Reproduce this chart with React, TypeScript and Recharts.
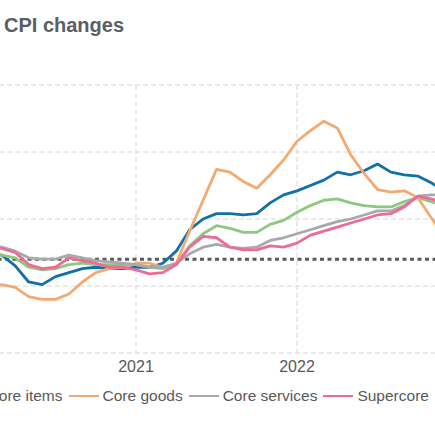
import { LineChart, Line, XAxis, YAxis, CartesianGrid, ReferenceLine, Legend } from 'recharts'

// months Jan 2020 .. Nov 2022, plotted at month end (t = 1 is end of Jan 2020)
const months = [
  '2020-01', '2020-02', '2020-03', '2020-04', '2020-05', '2020-06',
  '2020-07', '2020-08', '2020-09', '2020-10', '2020-11', '2020-12',
  '2021-01', '2021-02', '2021-03', '2021-04', '2021-05', '2021-06',
  '2021-07', '2021-08', '2021-09', '2021-10', '2021-11', '2021-12',
  '2022-01', '2022-02', '2022-03', '2022-04', '2022-05', '2022-06',
  '2022-07', '2022-08', '2022-09', '2022-10', '2022-11',
]

const allItems = [
  2.5, 2.3, 1.5, 0.3, 0.1, 0.7, 1.0, 1.3, 1.4, 1.3, 1.3, 1.4,
  1.4, 1.7, 2.6, 4.2, 5.0, 5.4, 5.4, 5.3, 5.4, 6.2, 6.8, 7.1,
  7.5, 7.9, 8.5, 8.3, 8.6, 9.1, 8.5, 8.3, 8.2, 7.7, 7.1,
]
const coreItems = [
  2.3, 2.3, 2.1, 1.4, 1.2, 1.3, 1.6, 1.7, 1.6, 1.6, 1.6, 1.6,
  1.4, 1.3, 1.6, 3.0, 3.9, 4.5, 4.3, 4.0, 4.0, 4.6, 4.9, 5.5,
  6.0, 6.4, 6.5, 6.2, 6.0, 5.9, 5.9, 6.3, 6.6, 6.3, 6.0,
]
const coreGoods = [
  -0.1, 0.1, -0.1, -0.8, -1.0, -1.0, -0.6, 0.3, 1.0, 1.3, 1.4, 1.7,
  1.7, 1.4, 1.7, 4.1, 6.4, 8.7, 8.5, 7.8, 7.3, 8.3, 9.4, 10.8,
  11.6, 12.3, 11.8, 9.8, 8.4, 7.2, 7.0, 7.1, 6.6, 5.1, 3.7,
]
const coreServices = [
  3.0, 2.9, 2.6, 2.1, 2.0, 2.0, 2.3, 2.1, 1.9, 1.8, 1.7, 1.6,
  1.4, 1.4, 1.7, 2.4, 2.9, 3.1, 2.9, 2.8, 2.9, 3.4, 3.6, 3.9,
  4.2, 4.5, 4.8, 5.0, 5.3, 5.6, 5.6, 6.0, 6.7, 6.8, 6.8,
]
const supercore = [
  2.9, 2.8, 2.5, 1.6, 1.3, 1.4, 2.1, 1.9, 1.7, 1.4, 1.4, 1.2,
  0.9, 1.0, 1.6, 2.9, 3.7, 3.6, 2.9, 2.7, 2.7, 3.0, 2.9, 3.2,
  3.8, 4.1, 4.4, 4.7, 5.0, 5.3, 5.4, 5.9, 6.7, 6.5, 6.2,
]

const yearTicks = [12, 24]
const yearLabels = ['2021', '2022']
const yTicks = [-5, 0, 5, 10, 15]
const TARGET = 2

const SERIES = [
  { key: 'all', name: 'All items', color: '#1170aa', values: allItems },
  { key: 'core', name: 'Core items', color: '#8cc97f', values: coreItems },
  { key: 'goods', name: 'Core goods', color: '#f2aa72', values: coreGoods },
  { key: 'services', name: 'Core services', color: '#a9a9a9', values: coreServices },
  { key: 'super', name: 'Supercore', color: '#ef6a97', values: supercore },
]

const data = months.map((m, i) => {
  const row: Record<string, number | string> = { month: m, t: i + 1 }
  SERIES.forEach(s => {
    row[s.key] = s.values[i]
  })
  return row
})

const FONT = '"Liberation Sans", Arial, sans-serif'
const TEXT = '#595959'

function LegendRow() {
  return (
    <div style={{ display: 'flex', alignItems: 'center', fontFamily: FONT, fontSize: 15.5, lineHeight: '20px', color: TEXT, whiteSpace: 'nowrap' }}>
      {SERIES.map(s => (
        <div key={s.key} style={{ display: 'flex', alignItems: 'center', marginRight: 6 }}>
          <span style={{ display: 'inline-block', width: 30, height: 2, background: s.color, marginRight: 4 }} />
          <span>{s.name}</span>
        </div>
      ))}
    </div>
  )
}

export default function App() {
  return (
    <div style={{ position: 'absolute', left: 0, top: 0, width: 435, height: 435, overflow: 'hidden', background: '#fff' }}>
      <div style={{ position: 'absolute', left: 4, top: 14.5, fontFamily: FONT, fontSize: 20, lineHeight: '20px', fontWeight: 700, color: '#5b5e63', whiteSpace: 'nowrap' }}>
        CPI changes
      </div>
      <div style={{ position: 'absolute', left: -25, top: 0 }}>
        <LineChart width={483} height={435} data={data} margin={{ top: 85, right: 0, bottom: 52, left: 0 }}>
          <CartesianGrid stroke="#d6d6d6" strokeDasharray="5 3" />
          <XAxis
            type="number"
            dataKey="t"
            domain={[0, 36]}
            ticks={yearTicks}
            interval={0}
            tickFormatter={(v: number) => yearLabels[yearTicks.indexOf(v)] ?? ''}
            axisLine={false}
            tickLine={false}
            height={30}
            tick={{ fill: TEXT, fontSize: 16, fontFamily: FONT }}
          />
          <YAxis type="number" domain={[-5, 15]} ticks={yTicks} hide />
          <ReferenceLine y={TARGET} stroke="#5a5a5a" strokeWidth={3} strokeDasharray="4 3.5" />
          {SERIES.map(s => (
            <Line
              key={s.key}
              type="linear"
              dataKey={s.key}
              name={s.name}
              stroke={s.color}
              strokeWidth={2.8}
              dot={false}
              strokeLinejoin="round"
              isAnimationActive={false}
            />
          ))}
          <Legend
            layout="horizontal"
            verticalAlign="middle"
            align="center"
            wrapperStyle={{ left: -120, top: 386, width: 700 }}
            content={() => <LegendRow />}
          />
        </LineChart>
      </div>
    </div>
  )
}
